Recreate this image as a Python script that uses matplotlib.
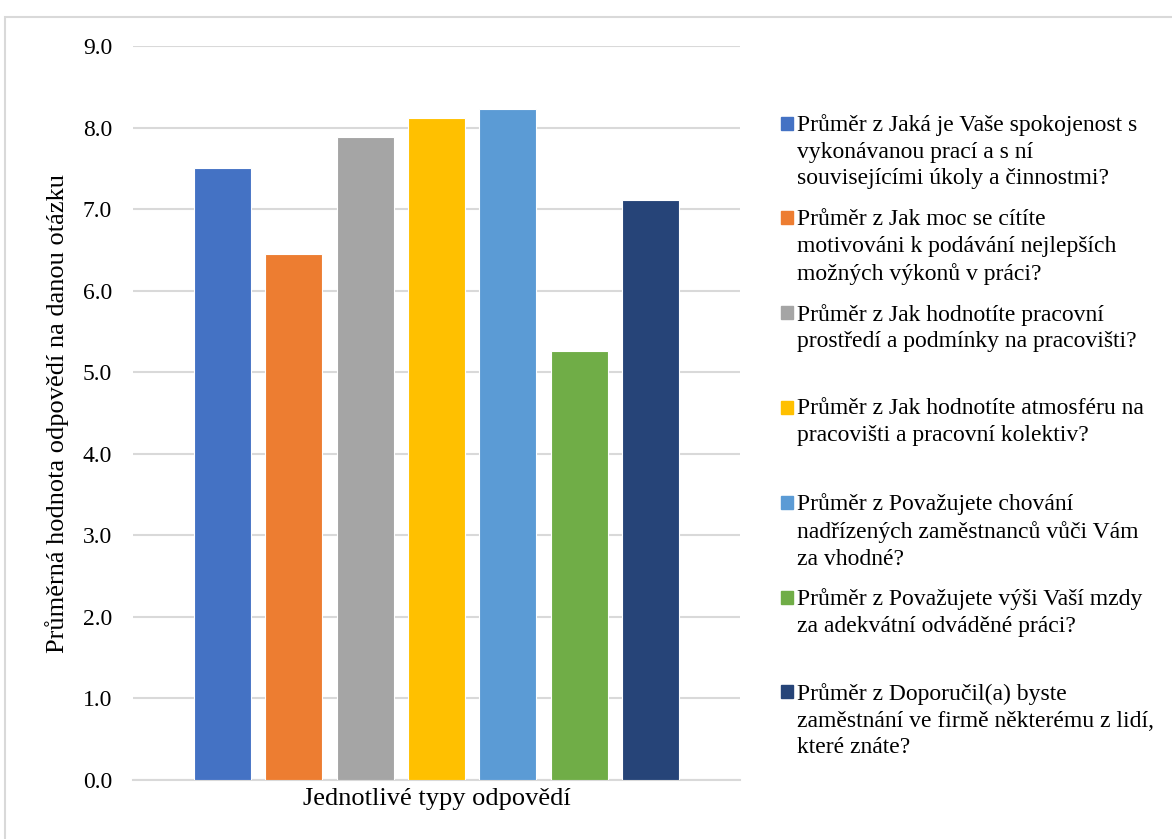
# Průměrné hodnoty odpovědí - sloupcový graf

import matplotlib.pyplot as plt
from matplotlib.patches import Rectangle

plt.rcParams['font.family'] = ['Liberation Serif', 'DejaVu Serif']

labels = [
    "Průměr z Jaká je Vaše spokojenost s\nvykonávanou prací a s ní\nsouvisejícími úkoly a činnostmi?",
    "Průměr z Jak moc se cítíte\nmotivováni k podávání nejlepších\nmožných výkonů v práci?",
    "Průměr z Jak hodnotíte pracovní\nprostředí a podmínky na pracovišti?",
    "Průměr z Jak hodnotíte atmosféru na\npracovišti a pracovní kolektiv?",
    "Průměr z Považujete chování\nnadřízených zaměstnanců vůči Vám\nza vhodné?",
    "Průměr z Považujete výši Vaší mzdy\nza adekvátní odváděné práci?",
    "Průměr z Doporučil(a) byste\nzaměstnání ve firmě některému z lidí,\nkteré znáte?",
]
values = [7.51, 6.45, 7.89, 8.12, 8.23, 5.26, 7.11]
colors = ['#4472C4', '#ED7D31', '#A5A5A5', '#FFC000', '#5B9BD5', '#70AD47', '#264478']
yticks = [0, 1, 2, 3, 4, 5, 6, 7, 8, 9]

W, H = 1172, 839
fig = plt.figure(figsize=(W / 100, H / 100), dpi=100)
ax = fig.add_axes([133 / W, 1 - 780 / H, (740 - 133) / W, (780 - 46) / H])

# okraj grafu
fig.patches.append(Rectangle((5 / W, -0.1), 1.1, 1.1 - 17 / H, transform=fig.transFigure,
                             fill=False, edgecolor='#d9d9d9', lw=1.5))

n = len(values)
step = 0.1176
width = 0.094
xs = [(i - (n - 1) / 2) * step for i in range(n)]
ax.bar(xs, values, width=width, color=colors, edgecolor='white', lw=0.8, zorder=3)

ax.set_xlim(-0.5, 0.5)
ax.set_ylim(0, 9)
ax.set_yticks(yticks)
ax.set_yticklabels([f"{v:.1f}" for v in yticks], fontsize=17)
ax.set_xticks([])
ax.tick_params(axis='y', length=0, pad=15)
ax.grid(axis='y', color='#d9d9d9', lw=1.5, zorder=0)
for s in ['top', 'right', 'left']:
    ax.spines[s].set_visible(False)
ax.spines['bottom'].set_color('#d9d9d9')
ax.spines['bottom'].set_linewidth(1.5)

ax.set_xlabel('Jednotlivé typy odpovědí', fontsize=19, labelpad=6)
ax.set_ylabel('Průměrná hodnota odpovědí na danou otázku', fontsize=19, labelpad=10)

# legenda
y0, dy = 122, 94.8
for i, (lab, c) in enumerate(zip(labels, colors)):
    yc = y0 + i * dy
    fig.patches.append(Rectangle((781 / W, 1 - (yc + 7.5) / H), 12 / W, 13 / H,
                                 transform=fig.transFigure, color=c))
    fig.text(797 / W, 1 - (yc - 8) / H, lab, fontsize=17, va='top', ha='left',
             linespacing=1.36)

fig.savefig('out.png', dpi=100)
